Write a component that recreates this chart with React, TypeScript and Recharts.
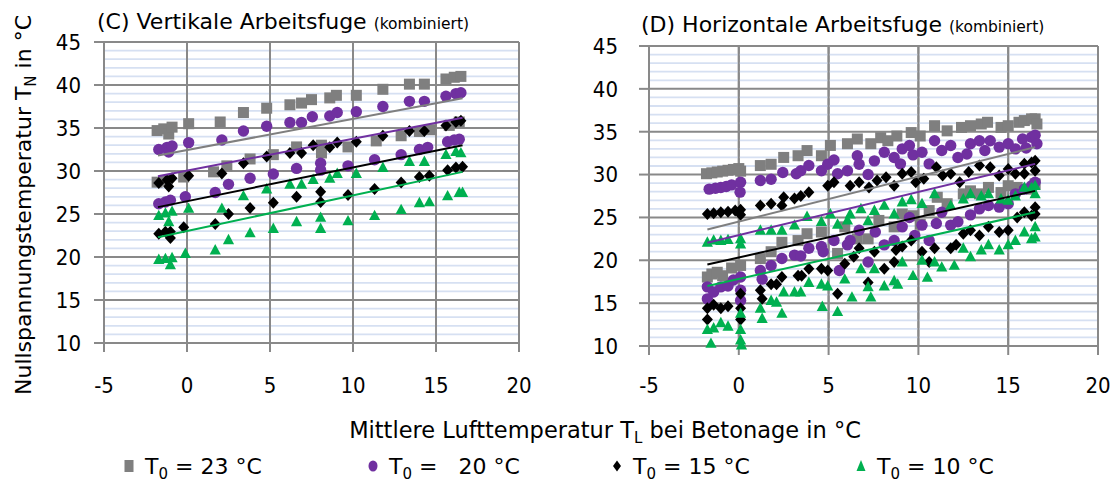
import React from 'react';
import { ScatterChart, Scatter, XAxis, YAxis, CartesianGrid, ReferenceLine } from 'recharts';

type Pt = [number, number];

// ---------- (C) Vertikale Arbeitsfuge ----------
const vertT23: Pt[] = [
  [-1.8,34.7],[-1.4,34.9],[-1.1,34.3],[-0.9,35.1],[0.1,35.5],[2.0,35.7],[3.4,36.8],[4.8,37.3],[6.2,37.7],[6.9,37.9],[7.5,38.3],[8.6,38.5],[9.0,38.8],[10.2,38.8],[11.8,39.5],[13.4,40.1],[14.3,40.1],[15.6,40.7],[16.1,40.9],[16.5,41.0],
  [-1.8,28.7],[-1.3,28.9],[-0.2,29.3],[1.6,29.9],[2.4,30.6],[3.8,31.4],[5.2,31.9],[6.6,32.8],[8.1,33.0],[8.1,32.1],[9.7,32.8],[11.4,33.5],[12.9,34.1],[14.0,34.6],[14.7,34.8],[15.8,35.3],[16.4,35.7],
];
const vertT20: Pt[] = [
  [-1.7,32.5],[-1.2,32.75],[-1.1,32.2],[-0.9,32.9],[0.1,33.3],[2.1,33.6],[3.4,34.65],[4.8,35.2],[6.2,35.65],[6.9,35.65],[7.55,36.3],[8.6,36.4],[9.05,36.8],[10.2,36.9],[11.8,37.5],[13.4,38.1],[14.3,38.1],[15.6,38.7],[16.2,39.0],[16.5,39.1],
  [-1.7,26.2],[-1.3,26.4],[-1.0,26.6],[-0.1,27.0],[1.7,27.5],[2.5,28.45],[3.8,29.15],[5.2,29.65],[6.6,30.3],[8.05,30.9],[8.05,30.1],[9.7,30.6],[11.3,31.3],[12.9,31.9],[14.0,32.5],[14.5,32.75],[15.7,33.4],[16.1,33.6],[16.4,33.7],
];
const vertT15: Pt[] = [
  [-1.7,28.6],[-1.2,28.95],[-1.1,28.2],[-0.9,29.15],[0.1,29.45],[2.1,29.7],[3.4,30.9],[4.8,31.7],[6.2,32.1],[6.9,32.1],[7.6,33.0],[8.6,32.75],[9.05,33.3],[10.2,33.4],[11.8,34.1],[13.4,34.65],[14.3,34.65],[15.6,35.3],[16.2,35.7],[16.5,35.85],
  [-1.7,22.7],[-1.3,22.95],[-1.0,22.95],[-1.0,22.2],[-0.2,23.45],[1.7,23.85],[2.5,25.0],[3.8,25.7],[5.2,26.3],[6.6,27.0],[8.05,27.6],[8.05,26.4],[9.7,27.2],[11.3,27.9],[12.9,28.65],[14.0,29.3],[14.6,29.45],[15.7,30.1],[16.2,30.4],[16.6,30.5],
];
const vertT10: Pt[] = [
  [-1.7,24.8],[-1.3,25.1],[-1.1,24.1],[-0.9,25.3],[0.1,25.65],[2.1,25.65],[3.4,27.1],[4.8,27.9],[6.2,28.45],[6.9,28.45],[7.6,29.0],[8.6,29.15],[9.05,29.7],[10.2,29.7],[11.8,30.4],[13.4,31.1],[14.3,31.1],[15.6,31.9],[16.2,32.25],[16.5,32.1],
  [-1.7,19.7],[-1.3,19.8],[-0.9,19.9],[-1.0,19.1],[-0.1,20.4],[1.7,20.8],[2.5,22.0],[3.8,22.8],[5.2,23.3],[6.6,24.1],[8.05,24.6],[8.05,23.3],[9.7,24.2],[11.3,24.8],[12.9,25.5],[14.0,26.3],[14.6,26.4],[15.7,27.1],[16.4,27.5],[16.6,27.5],
];
const vertTrendT23: Pt[] = [[-1.75,31.8],[16.6,38.45]];
const vertTrendT20: Pt[] = [[-1.75,29.4],[16.6,36.2]];
const vertTrendT15: Pt[] = [[-1.75,25.8],[16.6,33.0]];
const vertTrendT10: Pt[] = [[-1.75,22.3],[16.6,29.9]];

// ---------- (D) Horizontale Arbeitsfuge ----------
const horizT23: Pt[] = [
  [-1.8,30.1],[-1.5,30.2],[-1.2,30.3],[-0.9,30.4],[-0.6,30.5],[-0.3,30.6],[0.0,30.7],[0.1,30.4],[1.2,31.05],[1.8,31.2],[2.5,32.0],[3.3,32.2],[3.8,32.8],[4.6,32.2],[5.1,33.4],[6.05,33.6],[6.6,34.15],[7.35,33.6],[7.9,34.3],[8.3,33.95],[8.8,34.5],[9.6,34.9],[10.1,34.5],[10.9,35.7],[11.6,35.1],[12.4,35.5],[12.9,35.7],[13.5,35.9],[13.85,36.1],[14.6,35.5],[15.0,35.7],[15.6,36.1],[15.9,36.3],[16.3,36.5],[16.5,36.5],[16.6,35.9],
  [-1.75,18.05],[-1.5,18.4],[-1.2,18.6],[-0.9,18.2],[-0.4,19.1],[0.1,19.4],[1.2,20.2],[1.8,21.0],[2.4,22.1],[3.3,22.3],[3.8,23.1],[4.6,23.3],[5.5,20.8],[5.9,23.9],[6.6,22.5],[7.2,22.5],[7.8,24.65],[8.65,23.9],[9.1,25.4],[9.7,25.2],[10.1,24.2],[10.6,25.8],[11.05,27.35],[11.6,26.6],[12.5,27.75],[12.9,28.1],[13.4,27.75],[13.9,28.5],[14.6,27.9],[15.0,28.7],[15.5,28.5],[16.3,28.3],[16.5,28.9],
];
const horizT20: Pt[] = [
  [-1.65,28.3],[-1.3,28.4],[-1.0,28.5],[-0.7,28.6],[-0.4,28.8],[0.1,29.1],[0.07,27.95],[1.2,29.3],[1.8,29.45],[2.45,30.25],[3.2,30.1],[3.45,30.45],[3.9,31.05],[4.6,30.45],[4.95,31.2],[5.3,31.7],[5.5,30.1],[6.05,30.45],[6.6,32.2],[6.7,31.2],[7.2,30.0],[7.55,31.6],[8.1,32.6],[8.65,32.0],[9.0,31.25],[9.1,33.0],[9.5,33.4],[9.7,32.3],[10.2,32.6],[10.6,31.25],[10.9,33.95],[11.3,32.8],[11.8,33.4],[12.2,32.0],[12.7,32.4],[12.9,33.6],[13.4,33.95],[13.7,32.8],[14.0,33.95],[14.5,33.2],[15.0,33.6],[15.4,33.0],[15.8,34.15],[16.0,33.1],[16.3,34.35],[16.5,34.6],[16.6,33.6],
  [-1.75,16.9],[-1.75,15.5],[-1.4,16.3],[-1.0,16.9],[-0.6,17.0],[-0.3,17.7],[0.1,18.05],[0.1,16.5],[0.1,15.3],[1.2,18.8],[1.3,17.8],[1.8,19.4],[2.4,20.2],[3.1,20.6],[3.45,20.5],[3.9,21.4],[4.6,21.6],[4.7,21.0],[5.3,22.3],[5.6,18.8],[6.05,21.8],[6.2,22.3],[6.7,23.5],[7.2,19.8],[7.6,23.3],[8.1,21.8],[8.65,22.3],[9.1,23.9],[9.5,25.0],[9.8,22.9],[10.2,24.1],[10.6,22.3],[11.0,24.3],[11.3,25.6],[11.8,24.1],[12.2,24.5],[12.9,25.3],[13.4,26.0],[13.9,26.4],[14.5,26.2],[15.0,26.6],[15.4,27.75],[15.9,28.3],[16.3,28.7],[16.5,29.1],
];
const horizT15: Pt[] = [
  [-1.75,25.4],[-1.4,25.5],[-1.0,25.6],[-0.6,25.65],[-0.2,25.8],[0.1,25.9],[0.1,25.3],[1.2,26.4],[1.8,26.6],[2.4,26.4],[2.5,27.35],[3.1,27.2],[3.45,27.5],[3.9,27.95],[4.95,28.7],[5.3,29.1],[6.2,28.7],[6.7,29.1],[7.25,28.5],[7.7,29.3],[8.2,29.7],[8.65,28.7],[9.1,30.1],[9.6,30.3],[9.85,29.1],[10.3,29.5],[11.0,30.85],[11.35,29.9],[11.8,30.1],[12.3,29.1],[12.8,30.3],[13.4,31.05],[14.0,30.85],[14.5,29.9],[15.0,30.65],[15.4,30.1],[15.9,31.25],[16.3,31.4],[16.5,31.6],[16.5,30.45],[15.9,30.1],
  [-1.75,14.4],[-1.75,13.1],[-1.4,14.8],[-1.0,14.4],[-0.6,14.65],[0.1,16.1],[0.1,14.4],[0.1,13.1],[1.2,16.5],[1.3,15.5],[1.8,17.2],[2.1,17.2],[2.4,18.05],[3.3,18.2],[3.5,18.2],[3.9,19.0],[4.6,19.0],[4.95,18.8],[5.5,16.1],[5.9,19.6],[6.4,20.4],[6.7,21.4],[7.2,17.4],[7.55,21.0],[8.1,19.0],[8.65,19.8],[8.75,21.2],[9.1,21.6],[9.6,22.3],[10.2,21.0],[10.6,19.8],[10.9,21.4],[11.8,21.4],[12.1,21.8],[12.5,23.1],[12.9,23.5],[13.4,22.9],[13.9,23.9],[14.5,23.3],[15.0,23.5],[15.5,25.0],[15.9,25.6],[16.3,25.2],[16.5,26.2],[16.5,25.4],
];
const horizT10: Pt[] = [
  [-1.75,22.1],[-1.4,22.35],[-1.0,22.3],[-0.6,22.4],[0.1,22.5],[0.1,21.9],[1.2,23.5],[1.8,23.5],[2.4,23.5],[3.1,24.1],[3.8,25.1],[4.6,24.5],[5.1,25.4],[5.5,24.2],[6.05,24.7],[6.2,25.4],[6.8,26.0],[7.2,24.6],[7.55,25.8],[8.1,26.4],[8.65,25.4],[9.1,26.8],[9.6,27.05],[10.2,26.6],[10.9,27.75],[11.8,26.4],[12.5,27.15],[12.9,27.75],[13.5,27.5],[13.9,27.75],[14.6,27.15],[15.0,27.0],[15.4,27.5],[15.9,28.5],[16.3,28.45],[16.5,28.7],[16.5,27.75],
  [-1.55,10.3],[-1.75,11.9],[-1.4,12.1],[-1.0,12.7],[-0.6,12.3],[0.1,13.8],[0.1,11.9],[0.1,10.7],[0.15,10.1],[1.2,14.4],[1.3,13.2],[1.8,15.3],[2.1,15.1],[2.4,13.8],[2.5,16.3],[3.1,16.3],[3.45,16.3],[3.9,17.4],[4.6,17.2],[4.65,14.6],[4.95,17.0],[5.5,14.0],[5.9,17.8],[6.3,15.7],[6.8,19.0],[7.2,16.9],[7.35,15.7],[7.55,19.0],[8.1,17.0],[8.65,17.6],[8.85,17.2],[9.1,19.8],[9.7,18.2],[10.2,20.0],[10.5,18.0],[10.9,19.8],[11.3,19.2],[12.0,19.4],[12.5,21.4],[12.9,20.4],[13.5,21.2],[13.9,21.8],[14.5,21.2],[15.0,21.8],[15.4,22.3],[15.9,23.3],[16.3,22.5],[16.5,23.9],[16.5,22.7],
];
const horizTrendT23: Pt[] = [[-1.75,23.6],[16.5,33.2]];
const horizTrendT20: Pt[] = [[-1.75,22.05],[16.5,31.25]];
const horizTrendT15: Pt[] = [[-1.75,19.5],[16.5,28.1]];
const horizTrendT10: Pt[] = [[-1.75,17.0],[16.5,25.6]];

const xTicks = [-5, 0, 5, 10, 15, 20];
const yTicks = [10, 15, 20, 25, 30, 35, 40, 45];
const yMinor = [11,12,13,14,16,17,18,19,21,22,23,24,26,27,28,29,31,32,33,34,36,37,38,39,41,42,43,44];

const legendLabels = ['= 23 °C', '=   20 °C', '= 15 °C', '= 10 °C'];

const GRAY = '#7f7f7f';
const PURPLE = '#7030a0';
const BLACK = '#000000';
const GREEN = '#00b050';
const GRID = '#898989';
const MINOR = '#d6e0f2';
const SANS = '"DejaVu Sans", sans-serif';
const TICKFONT = '"Liberation Sans Narrow", "DejaVu Sans Condensed", "Liberation Sans", sans-serif';

const toObj = (pts: Pt[]) => pts.map(([x, y]) => ({ x, y }));

const SquareShape = (p: any) => <rect x={p.cx - 5.5} y={p.cy - 5.5} width={11} height={11} fill={GRAY} />;
const CircleShape = (p: any) => <circle cx={p.cx} cy={p.cy} r={5.7} fill={PURPLE} />;
const DiamondShape = (p: any) => (
  <path d={`M${p.cx},${p.cy - 6}L${p.cx + 5.5},${p.cy}L${p.cx},${p.cy + 6}L${p.cx - 5.5},${p.cy}Z`} fill={BLACK} />
);
const TriangleShape = (p: any) => (
  <path d={`M${p.cx},${p.cy - 6}L${p.cx + 5.6},${p.cy + 4.4}L${p.cx - 5.6},${p.cy + 4.4}Z`} fill={GREEN} />
);
const NoShape = () => <g />;

interface PanelProps {
  left: number;
  width: number;
  margin: { top: number; right: number; bottom: number; left: number };
  yTickMargin: number;
  xTickMargin: number;
  series: Pt[][];
  trends: Pt[][];
}

const shapes = [SquareShape, CircleShape, DiamondShape, TriangleShape];
const colors = [GRAY, PURPLE, BLACK, GREEN];

function Panel({ left, width, margin, yTickMargin, xTickMargin, series, trends }: PanelProps) {
  return (
    <div style={{ position: 'absolute', left, top: 0 }}>
      <ScatterChart width={width} height={400} margin={margin}>
        <CartesianGrid stroke={GRID} strokeWidth={2} />
        {yMinor.map((v) => (
          <ReferenceLine key={'m' + v} y={v} stroke={MINOR} strokeWidth={1.8} />
        ))}
        {xTicks.map((v) => (
          <ReferenceLine key={'v' + v} x={v} stroke={GRID} strokeWidth={2} />
        ))}
        <XAxis
          type="number"
          dataKey="x"
          domain={[-5, 20]}
          ticks={xTicks}
          interval={0}
          height={40}
          tickSize={9}
          tickMargin={xTickMargin}
          axisLine={{ stroke: GRID, strokeWidth: 2 }}
          tickLine={{ stroke: GRID, strokeWidth: 2 }}
          tick={{ fill: '#000', fontSize: 22, fontFamily: TICKFONT }}
        />
        <YAxis
          type="number"
          dataKey="y"
          domain={[10, 45]}
          ticks={yTicks}
          interval={0}
          width={60}
          tickSize={10}
          tickMargin={yTickMargin}
          axisLine={{ stroke: GRID, strokeWidth: 2 }}
          tickLine={{ stroke: GRID, strokeWidth: 2 }}
          tick={{ fill: '#000', fontSize: 22, fontFamily: TICKFONT }}
        />
        {series.map((s, i) => (
          <Scatter key={'s' + i} data={toObj(s)} shape={shapes[i]} isAnimationActive={false} />
        ))}
        {trends.map((t, i) => (
          <Scatter
            key={'t' + i}
            data={toObj(t)}
            shape={NoShape}
            line={{ stroke: colors[i], strokeWidth: 2 }}
            isAnimationActive={false}
          />
        ))}
      </ScatterChart>
    </div>
  );
}

function Overlay() {
  const legX = [129, 373, 617, 861];
  const icons = [
    (cx: number, cy: number) => <rect x={cx - 4.5} y={cy - 6} width={9} height={12} fill={GRAY} />,
    (cx: number, cy: number) => <ellipse cx={cx} cy={cy} rx={4.5} ry={5.5} fill={PURPLE} />,
    (cx: number, cy: number) => <path d={`M${cx},${cy - 5.5}L${cx + 4},${cy}L${cx},${cy + 5.5}L${cx - 4},${cy}Z`} fill={BLACK} />,
    (cx: number, cy: number) => <path d={`M${cx},${cy - 6}L${cx + 4.5},${cy + 5}L${cx - 4.5},${cy + 5}Z`} fill={GREEN} />,
  ];
  return (
    <svg width={1114} height={482} style={{ position: 'absolute', left: 0, top: 0, pointerEvents: 'none' }}>
      <text x={97} y={29} fontFamily={SANS} fontSize={22} fill="#000">
        (C) Vertikale Arbeitsfuge <tspan fontSize={15.5}>(kombiniert)</tspan>
      </text>
      <text x={641} y={32} fontFamily={SANS} fontSize={22} fill="#000">
        (D) Horizontale Arbeitsfuge <tspan fontSize={15.5}>(kombiniert)</tspan>
      </text>
      <text
        transform="translate(31,205) rotate(-90)"
        textAnchor="middle"
        fontFamily={SANS}
        fontSize={22}
        fill="#000"
      >
        Nullspannungstemperatur T<tspan fontSize={15} dy={5}>N</tspan>
        <tspan dy={-5}> in °C</tspan>
      </text>
      <text x={605} y={438} textAnchor="middle" fontFamily={SANS} fontSize={22.5} fill="#000">
        Mittlere Lufttemperatur T<tspan fontSize={15} dy={5}>L</tspan>
        <tspan dy={-5}> bei Betonage in °C</tspan>
      </text>
      {legendLabels.map((lab, i) => (
        <g key={i}>
          {icons[i](legX[i], 466)}
          <text x={legX[i] + 16} y={474} fontFamily={SANS} fontSize={22} fill="#000" style={{ whiteSpace: 'pre' }}>
            T<tspan fontSize={15} dy={5}>0</tspan>
            <tspan dy={-5}>{' ' + lab}</tspan>
          </text>
        </g>
      ))}
    </svg>
  );
}

export default function App() {
  return (
    <div style={{ position: 'absolute', left: 0, top: 0, width: 1114, height: 482, background: '#fff' }}>
      <Panel
        left={0}
        width={540}
        margin={{ top: 42, right: 21, bottom: 17, left: 44 }}
        yTickMargin={13}
        xTickMargin={25}
        series={[vertT23, vertT20, vertT15, vertT10]}
        trends={[vertTrendT23, vertTrendT20, vertTrendT15, vertTrendT10]}
      />
      <Panel
        left={560}
        width={554}
        margin={{ top: 46, right: 16, bottom: 14, left: 29 }}
        yTickMargin={21}
        xTickMargin={22}
        series={[horizT23, horizT20, horizT15, horizT10]}
        trends={[horizTrendT23, horizTrendT20, horizTrendT15, horizTrendT10]}
      />
      <Overlay />
    </div>
  );
}
